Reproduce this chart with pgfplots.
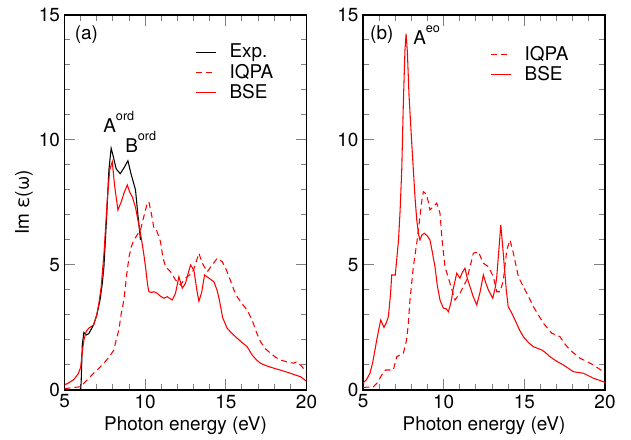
\documentclass[border=0pt]{standalone}
\usepackage{fontspec}
\setmainfont{TeX Gyre Heros}
\usepackage{pgfplots}
\pgfplotsset{compat=1.18}
\newcommand\ff{\fontsize{14.2}{16}\selectfont}
\newcommand\supx[1]{\raisebox{0.68em}{\fontsize{9.5}{11}\selectfont #1}}
\pgfplotsset{
 myax/.style={
  scale only axis, width=181.5pt, height=281.25pt,
  xmin=5,xmax=20,ymin=0,ymax=15,
  xtick={5,10,15,20}, ytick={0,5,10,15},
  minor x tick num=4, minor y tick num=4,
  tick align=inside,
  major tick length=8pt, minor tick length=4.3pt,
  axis line style={line width=0.9pt},
  tick style={line width=0.75pt},
  /pgf/number format/assume math mode=true,
  ticklabel style={font=\ff},
  label style={font=\ff},
  xlabel={Photon energy (eV)},
  x label style={at={(axis description cs:0.5,-0.095)}, anchor=center},
  legend cell align=left,
  legend style={draw=none, fill=none, inner sep=0pt, row sep=-1pt, column sep=8pt,
    font=\ff},
 },
 bse/.style={color=red, line width=0.8pt,
   legend image code/.code={\draw[draw=red, line width=0.8pt] (0pt,0pt) -- (15pt,0pt);}},
 iqpa/.style={color=red, line width=0.8pt, dash pattern=on 4.5pt off 3pt,
   legend image code/.code={\draw[draw=red, line width=0.8pt, dash pattern=on 4.5pt off 3pt] (0pt,0pt) -- (15pt,0pt);}},
 expt/.style={color=black, line width=0.8pt,
   legend image code/.code={\draw[draw=black, line width=0.8pt] (0pt,0pt) -- (15pt,0pt);}},
}
\begin{document}
\begin{tikzpicture}
\path[use as bounding box] (-48.4pt,-37.5pt) rectangle (424.9pt,292.5pt);
\begin{axis}[myax, at={(0pt,0pt)}, anchor=south west,
  ylabel={Im ε(ω)},
  y label style={at={(axis description cs:-0.168,0.5)}, anchor=center},
  legend style={at={(rel axis cs:0.539,0.93)}, anchor=north west}]
\addplot[expt] coordinates {(6.0,0)(6.03,0.3)(6.1,1.8)(6.2,2.3)(6.35,2.2)(6.5,2.25)(6.8,2.6)(7.0,3.0)(7.2,3.6)(7.33,4.2)(7.44,4.9)(7.6,6.8)(7.75,8.8)(7.89,9.67)(8.0,9.4)(8.2,8.85)(8.45,8.65)(8.7,8.9)(8.93,9.17)(9.1,8.7)(9.4,8.0)(9.55,7.0)(9.71,6.0)};
\addlegendentry{Exp.}
\addplot[iqpa] coordinates {(5,0.05)(5.2,0.07)(5.6,0.1)(6.0,0.13)(6.4,0.4)(6.8,0.67)(7.1,0.85)(7.44,1.07)(7.8,1.35)(8.06,1.6)(8.2,2.0)(8.37,2.4)(8.5,3.0)(8.68,3.6)(8.85,4.6)(9.0,5.33)(9.15,5.75)(9.3,6.0)(9.5,6.2)(9.71,6.4)(9.9,6.9)(10.1,7.4)(10.23,7.53)(10.4,7.0)(10.54,6.47)(10.7,6.4)(10.95,5.93)(11.1,5.3)(11.26,4.93)(11.57,4.73)(11.88,4.4)(12.19,4.2)(12.4,4.4)(12.6,4.53)(12.91,4.67)(13.1,5.0)(13.33,5.47)(13.54,5.07)(13.85,4.73)(14.15,5.0)(14.47,5.27)(14.78,5.13)(15.0,4.85)(15.2,4.53)(15.5,4.0)(15.7,3.73)(16.0,3.45)(16.32,3.2)(16.63,2.8)(16.9,2.3)(17.15,1.93)(17.45,1.65)(17.77,1.47)(18.1,1.3)(18.39,1.2)(18.8,1.12)(19.2,1.07)(19.4,1.13)(19.7,0.95)(20,0.7)};
\addlegendentry{IQPA}
\addplot[bse] coordinates {(5,0.2)(5.3,0.3)(5.58,0.42)(5.85,0.65)(6.0,0.9)(6.1,1.5)(6.2,2.0)(6.35,2.35)(6.5,2.47)(6.8,2.6)(7.0,3.0)(7.13,3.47)(7.27,4.1)(7.45,5.5)(7.65,7.6)(7.8,8.8)(7.96,9.13)(8.1,8.2)(8.31,7.2)(8.5,7.5)(8.7,7.9)(8.89,8.2)(9.05,7.9)(9.2,7.73)(9.4,7.3)(9.71,6.27)(9.9,5.5)(10.02,4.93)(10.15,4.2)(10.23,3.93)(10.4,3.9)(10.54,3.93)(10.74,3.87)(10.95,3.75)(11.16,3.67)(11.37,3.73)(11.55,3.65)(11.68,3.6)(11.88,3.87)(12.09,4.53)(12.3,4.07)(12.5,4.27)(12.81,5.0)(13.02,4.8)(13.2,4.0)(13.33,3.55)(13.5,3.9)(13.68,4.6)(13.9,4.5)(14.1,4.4)(14.26,4.33)(14.45,4.0)(14.6,3.6)(14.8,2.9)(15.08,2.47)(15.4,2.25)(15.7,2.07)(16.0,1.9)(16.32,1.73)(16.63,1.4)(16.9,1.2)(17.15,1.07)(17.5,0.97)(17.98,0.87)(18.5,0.77)(19.0,0.67)(19.3,0.6)(19.63,0.53)(20,0.35)};
\addlegendentry{BSE}
\node[font=\ff, anchor=west, inner sep=0pt] at (axis cs:5.62,14.2) {(a)};
\node[font=\ff, anchor=base west, inner sep=0pt] at (axis cs:7.39,10.28) {A\supx{ord}};
\node[font=\ff, anchor=base west, inner sep=0pt] at (axis cs:8.75,9.48) {B\supx{ord}};
\end{axis}
\begin{axis}[myax, at={(223.9pt,0pt)}, anchor=south west,
  legend style={at={(rel axis cs:0.525,0.924)}, anchor=north west}]
\addplot[iqpa] coordinates {(5,0.1)(5.64,0.13)(5.9,0.3)(6.16,0.6)(6.4,0.8)(6.65,0.8)(6.88,0.8)(7.09,1.33)(7.3,1.4)(7.5,1.47)(7.7,2.0)(7.8,2.6)(7.91,3.6)(8.12,4.93)(8.33,5.87)(8.53,6.93)(8.65,7.6)(8.74,7.93)(8.9,7.85)(9.05,7.53)(9.15,7.2)(9.3,7.3)(9.46,7.4)(9.57,7.47)(9.77,7.07)(9.9,6.0)(10.08,4.93)(10.39,4.27)(10.7,3.6)(11.01,3.87)(11.43,4.4)(11.84,5.47)(12.15,5.53)(12.3,5.3)(12.46,5.07)(12.77,4.93)(13.08,4.53)(13.29,3.93)(13.5,3.93)(13.7,4.4)(13.91,5.6)(14.11,6.0)(14.32,5.47)(14.63,4.53)(14.94,4.13)(15.25,3.75)(15.56,3.33)(16.18,2.67)(16.7,2.27)(17.21,2.13)(17.5,1.85)(17.83,1.6)(18.45,1.27)(18.9,1.13)(19.28,1.0)(19.9,0.73)(20,0.7)};
\addlegendentry{IQPA}
\addplot[bse] coordinates {(5,0.27)(5.2,0.4)(5.43,0.67)(5.6,1.1)(5.85,2.0)(6.0,2.5)(6.1,2.8)(6.3,2.5)(6.45,2.7)(6.57,2.93)(6.7,3.8)(6.78,4.6)(7.0,4.6)(7.1,5.3)(7.2,6.0)(7.3,7.2)(7.4,8.8)(7.5,11.5)(7.6,13.6)(7.67,14.25)(7.75,13.5)(7.85,11.8)(8.02,9.87)(8.22,7.73)(8.33,6.8)(8.45,6.2)(8.53,6.0)(8.65,6.2)(8.8,6.27)(9.0,6.15)(9.15,6.0)(9.3,5.5)(9.46,4.93)(9.6,4.2)(9.77,3.6)(9.98,3.27)(10.15,3.25)(10.29,3.13)(10.45,3.5)(10.6,4.07)(10.81,4.67)(11.01,4.47)(11.15,4.7)(11.32,4.87)(11.45,4.5)(11.63,4.13)(11.85,3.7)(12.05,3.4)(12.25,3.9)(12.46,4.6)(12.6,4.3)(12.77,4.0)(13.04,3.67)(13.2,4.1)(13.29,4.53)(13.42,5.6)(13.54,6.6)(13.65,5.8)(13.76,4.93)(13.88,4.0)(14.0,3.33)(14.2,3.1)(14.42,2.8)(14.7,2.4)(14.94,2.13)(15.25,1.9)(15.56,1.73)(16.08,1.6)(16.3,1.5)(16.59,1.33)(17.0,1.15)(17.42,1.0)(18.04,0.73)(18.66,0.67)(19.28,0.47)(19.9,0.33)(20,0.3)};
\addlegendentry{BSE}
\node[font=\ff, anchor=west, inner sep=0pt] at (axis cs:5.43,14.2) {(b)};
\node[font=\ff, anchor=base west, inner sep=0pt] at (axis cs:8.1,13.8) {A\supx{eo}};
\end{axis}
\end{tikzpicture}
\end{document}
